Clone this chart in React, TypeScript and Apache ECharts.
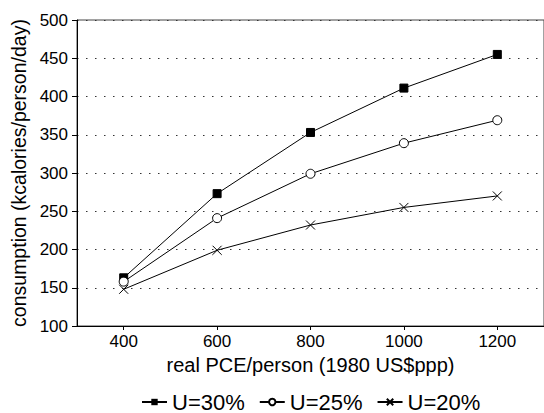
import React, { useEffect, useRef } from "react";
import * as echarts from "echarts";

const xValues = [400, 600, 800, 1000, 1200];
const u30 = [163, 273, 353, 411, 455];
const u25 = [158, 241, 299, 339, 369];
const u20 = [148, 199, 232, 255, 270];
const seriesNames = ["U=30%", "U=25%", "U=20%"];

const pairs = (ys: number[]) => xValues.map((x, i) => [x, ys[i]]);

export default function App() {
  const ref = useRef<HTMLDivElement>(null);
  useEffect(() => {
    if (!ref.current) return;
    const chart = echarts.init(ref.current, null, { renderer: "svg" });
    const font = "Liberation Sans, Arial, Helvetica, sans-serif";
    const lineStyle = { color: "#000", width: 1 };
    chart.setOption({
      animation: false,
      backgroundColor: "#fff",
      textStyle: { fontFamily: font, color: "#000" },
      grid: {
        left: 77,
        right: -5,
        top: 20,
        bottom: 87,
        show: true,
        borderColor: "#444",
        borderWidth: 1,
        backgroundColor: "transparent",
      },
      xAxis: {
        type: "value",
        min: 300,
        max: 1300,
        name: "real PCE/person (1980 US$ppp)",
        nameLocation: "middle",
        nameGap: 26,
        nameTextStyle: { fontSize: 20, color: "#000", fontFamily: font, verticalAlign: "top" },
        axisLine: { show: true, onZero: false, lineStyle: { color: "#000", width: 1 } },
        axisTick: { show: true, length: 4, customValues: xValues, lineStyle: { color: "#000" } },
        axisLabel: {
          customValues: xValues,
          fontSize: 17,
          color: "#000",
          margin: 7,
          fontFamily: font,
          formatter: (v: number) => String(v),
        },
        splitLine: { show: false },
      },
      yAxis: {
        type: "value",
        min: 100,
        max: 500,
        interval: 50,
        name: "consumption (kcalories/person/day)",
        nameLocation: "middle",
        nameGap: 47,
        nameTextStyle: { fontSize: 19.5, color: "#000", fontFamily: font },
        axisLine: { show: true, lineStyle: { color: "#000", width: 1 } },
        axisTick: { show: true, length: 5, lineStyle: { color: "#000" } },
        axisLabel: { fontSize: 17, color: "#000", margin: 9, fontFamily: font },
        splitLine: { show: true, lineStyle: { color: "#333", width: 1, type: [1.5, 7.5] } },
      },
      legend: {
        bottom: 0,
        left: 141,
        padding: 0,
        itemWidth: 25,
        itemHeight: 8,
        itemGap: 14,
        textStyle: { fontSize: 22, lineHeight: 20, color: "#000", fontFamily: font },
        data: seriesNames,
      },
      series: [
        {
          name: seriesNames[0],
          type: "line",
          data: pairs(u30),
          symbol: "rect",
          symbolSize: 8,
          lineStyle,
          itemStyle: { color: "#000", borderColor: "#000" },
        },
        {
          name: seriesNames[1],
          type: "line",
          data: pairs(u25),
          symbol: "circle",
          symbolSize: 9,
          lineStyle,
          itemStyle: { color: "#fff", borderColor: "#000", borderWidth: 1 },
        },
        {
          name: seriesNames[2],
          type: "line",
          data: pairs(u20),
          symbol: "path://M0,0L10,10M10,0L0,10",
          symbolSize: 9,
          lineStyle,
          itemStyle: { color: "none", borderColor: "#000", borderWidth: 1 },
        },
      ],
    });
    return () => chart.dispose();
  }, []);
  return <div ref={ref} style={{ width: 544, height: 413, position: "fixed", left: 0, top: 0 }} />;
}
